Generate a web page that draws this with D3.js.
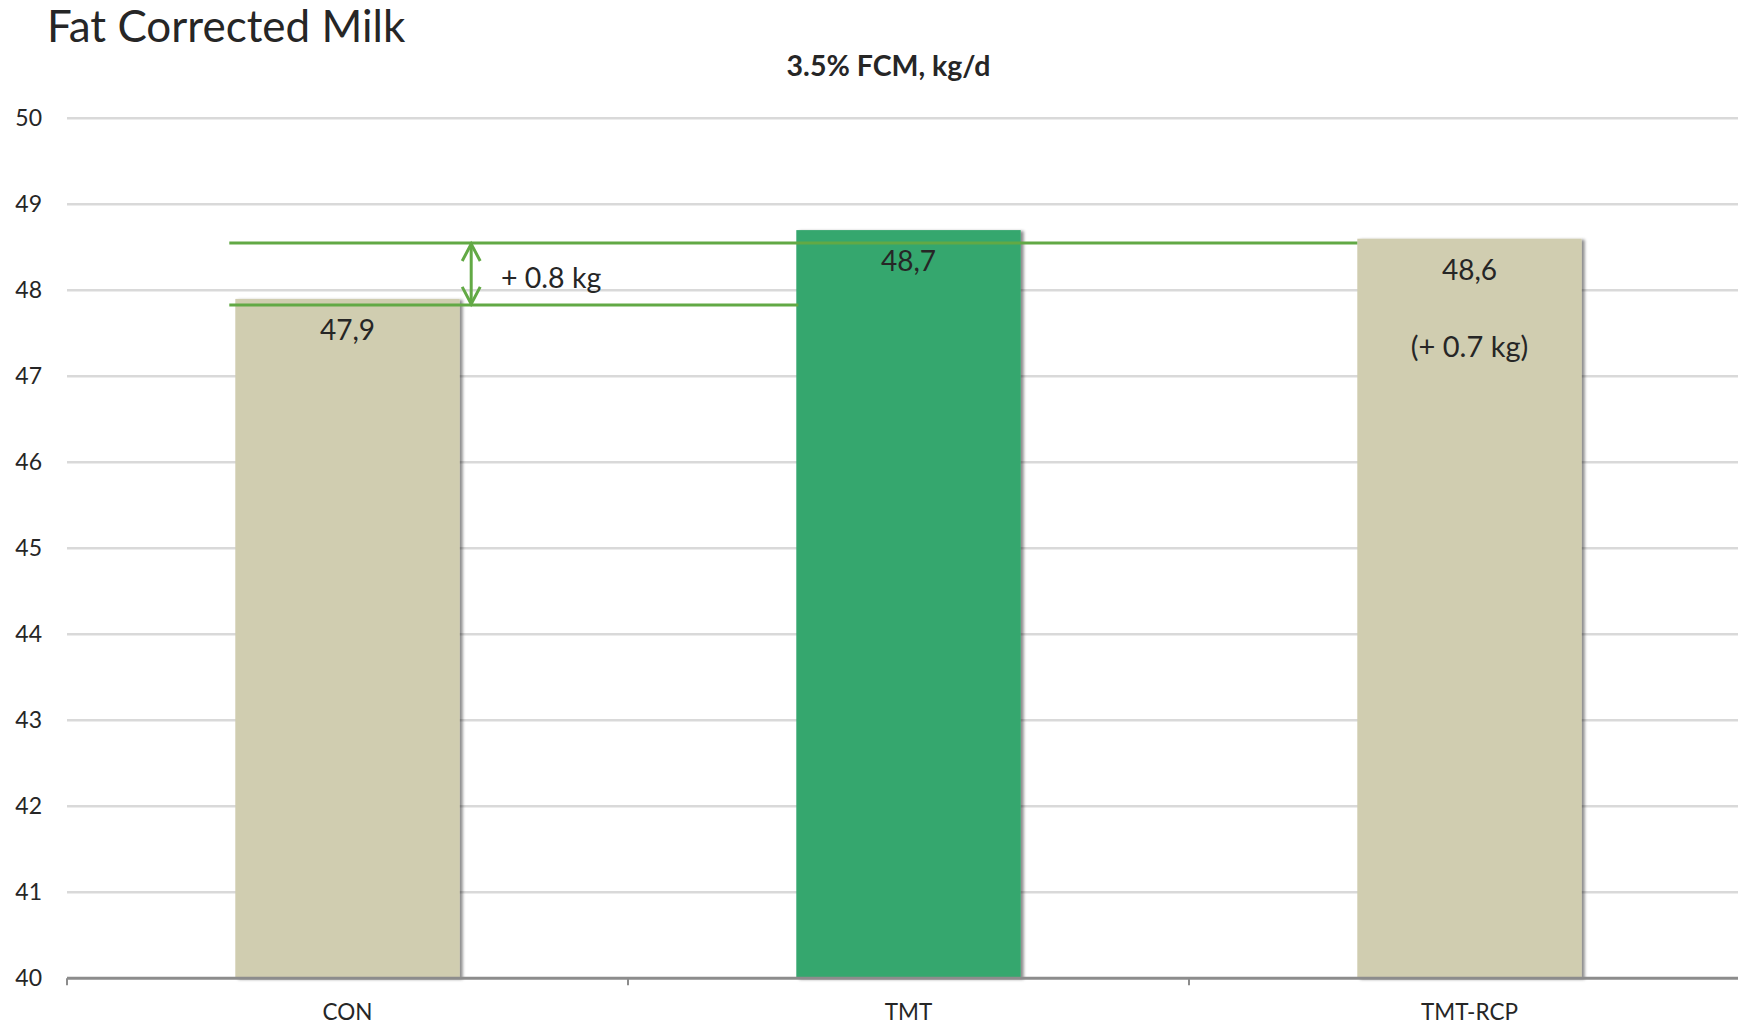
<!DOCTYPE html>
<html>
<head>
<meta charset="utf-8">
<script src="https://cdn.jsdelivr.net/npm/d3@7"></script>
<style>
  body { margin: 0; background: #fff; }
  text { font-family: Lato, "Open Sans", sans-serif; fill: #262626; }
</style>
</head>
<body>
<div id="chart"></div>
<script>
// data
const categories = ["CON", "TMT", "TMT-RCP"];
const values = [47.9, 48.7, 48.6];
const labels = ["47,9", "48,7", "48,6"];
const extraLabels = ["", "", "(+ 0.7 kg)"];
const barColors = ["#d0cdb0", "#35a76e", "#d0cdb0"];
const yTicks = [40, 41, 42, 43, 44, 45, 46, 47, 48, 49, 50];
// annotation levels (reference lines drawn over the chart)
const upperLevel = 48.55;
const lowerLevel = 47.83;
const diffLabel = "+ 0.8 kg";

const width = 1738;
const height = 1027;
const plot = { left: 67, right: 1750, top: 118.3, bottom: 978.3 };

const svg = d3
  .select("#chart")
  .append("svg")
  .attr("width", width)
  .attr("height", height);

// shadow for bars
const defs = svg.append("defs");
const filter = defs.append("filter").attr("id", "shadow")
  .attr("x", "-10%").attr("y", "-10%").attr("width", "130%").attr("height", "130%");
filter.append("feDropShadow")
  .attr("dx", 3).attr("dy", 1).attr("stdDeviation", 1.6)
  .attr("flood-color", "#000").attr("flood-opacity", 0.45);

//scales
const xScale = d3.scaleBand()
  .domain(categories)
  .range([plot.left, plot.right])
  .paddingInner(0.6)
  .paddingOuter(0.3);
const xTickScale = d3.scaleBand().domain(categories).range([plot.left, plot.right]);
const yScale = d3.scaleLinear().domain([40, 50]).range([plot.bottom, plot.top]);

// title
svg.append("text")
  .attr("x", 47).attr("y", 42)
  .attr("font-size", 44)
  .text("Fat Corrected Milk");

svg.append("text")
  .attr("x", 888.5).attr("y", 76)
  .attr("text-anchor", "middle")
  .attr("font-size", 28.5)
  .attr("font-weight", 700)
  .text("3.5% FCM, kg/d");

// gridlines
svg.append("g")
  .selectAll("line")
  .data(yTicks.slice(1))
  .enter()
  .append("line")
  .attr("x1", plot.left).attr("x2", width)
  .attr("y1", d => yScale(d)).attr("y2", d => yScale(d))
  .attr("stroke", "#d9d9d9")
  .attr("stroke-width", 2.5);

// y labels
svg.append("g")
  .selectAll("text")
  .data(yTicks)
  .enter()
  .append("text")
  .attr("x", 42)
  .attr("y", d => yScale(d) + 8)
  .attr("text-anchor", "end")
  .attr("font-size", 23)
  .text(d => d);

// bars
svg.append("g")
  .selectAll("rect")
  .data(values)
  .enter()
  .append("rect")
  .attr("x", (d, i) => xScale(categories[i]))
  .attr("width", xScale.bandwidth())
  .attr("y", d => yScale(d))
  .attr("height", d => yScale(40) - yScale(d))
  .attr("fill", (d, i) => barColors[i])
  .attr("filter", "url(#shadow)");

// x axis
const xAxis = d3.axisBottom(xTickScale).tickSize(0).tickFormat("");
const ax = svg.append("g")
  .attr("transform", "translate(0," + plot.bottom + ")")
  .call(xAxis);
ax.select(".domain").remove();
ax.append("line")
  .attr("x1", plot.left).attr("x2", width)
  .attr("stroke", "#8c8c8c").attr("stroke-width", 3);
ax.selectAll(".tk")
  .data(categories)
  .enter()
  .append("line")
  .attr("class", "tk")
  .attr("x1", d => xTickScale(d)).attr("x2", d => xTickScale(d))
  .attr("y1", 0).attr("y2", 7)
  .attr("stroke", "#8c8c8c").attr("stroke-width", 2);
svg.append("g")
  .selectAll("text")
  .data(categories)
  .enter()
  .append("text")
  .attr("x", d => xScale(d) + xScale.bandwidth() / 2)
  .attr("y", 1020)
  .attr("text-anchor", "middle")
  .attr("font-size", 22.5)
  .text(d => d);

// value labels
svg.append("g")
  .selectAll("text")
  .data(values)
  .enter()
  .append("text")
  .attr("x", (d, i) => xScale(categories[i]) + xScale.bandwidth() / 2)
  .attr("y", d => yScale(d) + 41)
  .attr("text-anchor", "middle")
  .attr("font-size", 28)
  .text((d, i) => labels[i]);

svg.append("g")
  .selectAll("text")
  .data(values)
  .enter()
  .append("text")
  .attr("x", (d, i) => xScale(categories[i]) + xScale.bandwidth() / 2)
  .attr("y", d => yScale(d) + 118)
  .attr("text-anchor", "middle")
  .attr("font-size", 29)
  .text((d, i) => extraLabels[i]);

// annotation lines
const green = "#62a945";
const conX = xScale("CON");
const tmtX = xScale("TMT");
const rcpX = xScale("TMT-RCP");
svg.append("line")
  .attr("x1", conX - 6).attr("x2", rcpX)
  .attr("y1", yScale(upperLevel)).attr("y2", yScale(upperLevel))
  .attr("stroke", green).attr("stroke-width", 3);
svg.append("line")
  .attr("x1", conX - 6).attr("x2", tmtX + 2)
  .attr("y1", yScale(lowerLevel)).attr("y2", yScale(lowerLevel))
  .attr("stroke", green).attr("stroke-width", 3);

// double arrow
const arrX = conX + xScale.bandwidth() + 11.5;
const a1 = yScale(upperLevel) + 1;
const a2 = yScale(lowerLevel) - 1;
svg.append("line")
  .attr("x1", arrX).attr("x2", arrX)
  .attr("y1", a1).attr("y2", a2)
  .attr("stroke", green).attr("stroke-width", 3);
[[a1, 1], [a2, -1]].forEach(([y, s]) => {
  svg.append("path")
    .attr("d", d3.line()([[arrX - 9, y + s * 17], [arrX, y], [arrX + 9, y + s * 17]]))
    .attr("fill", "none")
    .attr("stroke", green).attr("stroke-width", 3);
});
svg.append("text")
  .attr("x", 501)
  .attr("y", 288)
  .attr("font-size", 28.5)
  .text(diffLabel);
</script>
</body>
</html>
